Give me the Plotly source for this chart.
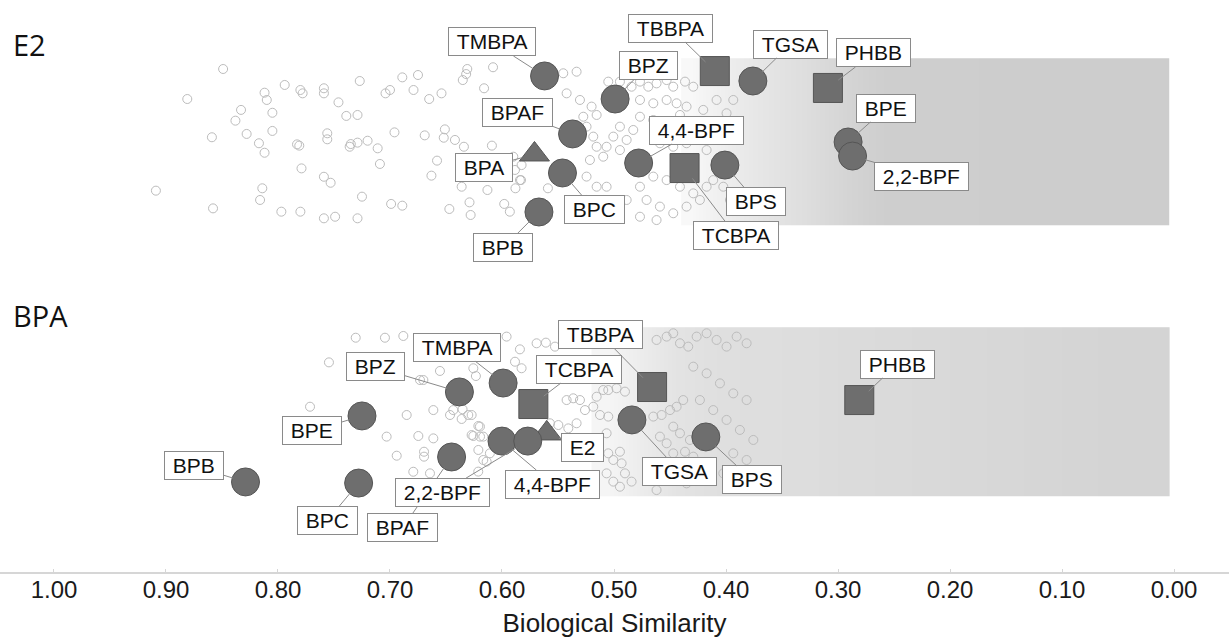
import plotly.graph_objects as go

# ---------------- highlighted compounds ----------------
# E2 panel: similarity to E2 (x) and vertical jitter (y, 0-1 band)
e2_names = ["TMBPA", "BPZ", "BPAF", "BPA", "BPC", "BPB", "4,4-BPF", "TCBPA",
            "BPS", "TBBPA", "TGSA", "PHBB", "BPE", "2,2-BPF"]
e2_sim = [0.562, 0.499, 0.537, 0.571, 0.546, 0.567, 0.478, 0.437,
          0.401, 0.410, 0.376, 0.309, 0.291, 0.287]
e2_jit = [0.918, 0.772, 0.551, 0.421, 0.304, 0.057, 0.367, 0.335,
          0.354, 0.949, 0.886, 0.842, 0.500, 0.411]

# BPA panel
bpa_names = ["BPB", "BPE", "BPC", "BPZ", "BPAF", "TMBPA", "4,4-BPF", "2,2-BPF",
             "TCBPA", "E2", "TBBPA", "TGSA", "BPS", "PHBB"]
bpa_sim = [0.829, 0.725, 0.728, 0.638, 0.645, 0.599, 0.600, 0.577,
           0.572, 0.560, 0.466, 0.484, 0.418, 0.281]
bpa_jit = [0.057, 0.472, 0.050, 0.623, 0.214, 0.679, 0.314, 0.314,
           0.547, 0.362, 0.654, 0.447, 0.340, 0.572]

# marker shape per compound class
triangle_set = {"BPA", "E2"}
square_set = {"TCBPA", "TBBPA", "PHBB"}

# ---------------- background library (sparse part, read individually) ----------------
e2_bg_sim = [
    0.849, 0.881, 0.794, 0.812, 0.810, 0.805, 0.833, 0.838, 0.780, 0.778, 0.759, 0.759,
    0.746, 0.727, 0.689, 0.675, 0.704, 0.700, 0.679, 0.665, 0.654, 0.631, 0.632, 0.635,
    0.608, 0.616, 0.739, 0.729, 0.859, 0.828, 0.817, 0.812, 0.805, 0.783, 0.781, 0.756,
    0.756, 0.736, 0.735, 0.729, 0.720, 0.711, 0.696, 0.669, 0.651, 0.652, 0.642, 0.634,
    0.609, 0.779, 0.759, 0.753, 0.709, 0.658, 0.663, 0.814, 0.816, 0.725, 0.909, 0.858,
    0.797, 0.780, 0.759, 0.749, 0.729, 0.699, 0.689, 0.647, 0.629, 0.628, 0.636, 0.613,
    0.598, 0.593, 0.588, 0.583, 0.559,
    0.5825, 0.5840, 0.5899, 0.5884, 0.5453, 0.5334, 0.5423, 0.5304, 0.5200, 0.5155,
    0.5274, 0.5245, 0.5185, 0.5155, 0.5096, 0.5215, 0.5245, 0.5155, 0.5066, 0.5096,
    0.5245, 0.5051, 0.4947, 0.4843, 0.4768, 0.4694, 0.4620, 0.4530, 0.4471, 0.4366,
    0.4292, 0.4768, 0.4649, 0.4530, 0.4441, 0.4352, 0.4768, 0.4649, 0.4530, 0.4411,
    0.4292, 0.4947, 0.4828, 0.5006, 0.4887, 0.5066, 0.4947, 0.4590, 0.4471, 0.4352,
    0.4649, 0.4530, 0.4411, 0.4292, 0.4768, 0.4709, 0.4590, 0.4471, 0.4352, 0.4233,
    0.4173, 0.4887, 0.5006, 0.4768, 0.4620, 0.4173, 0.4203, 0.4084, 0.3995, 0.3935,
    0.3935, 0.4054, 0.4114, 0.4024, 0.3965, 0.3876,
]
e2_bg_jit = [
    0.962, 0.772, 0.861, 0.812, 0.766, 0.685, 0.703, 0.635, 0.829, 0.808, 0.840, 0.808,
    0.751, 0.886, 0.909, 0.924, 0.808, 0.829, 0.829, 0.772, 0.808, 0.962, 0.930, 0.892,
    0.973, 0.840, 0.665, 0.671, 0.530, 0.551, 0.492, 0.432, 0.570, 0.485, 0.477, 0.555,
    0.517, 0.470, 0.487, 0.496, 0.508, 0.460, 0.561, 0.542, 0.580, 0.527, 0.513, 0.470,
    0.477, 0.333, 0.280, 0.242, 0.361, 0.382, 0.287, 0.207, 0.133, 0.154, 0.192, 0.080,
    0.059, 0.059, 0.017, 0.027, 0.017, 0.108, 0.097, 0.076, 0.118, 0.038, 0.217, 0.196,
    0.108, 0.059, 0.207, 0.259, 0.207,
    0.354, 0.259, 0.407, 0.323, 0.935, 0.945, 0.808, 0.766, 0.724, 0.671,
    0.660, 0.597, 0.534, 0.470, 0.407, 0.386, 0.281, 0.217, 0.217, 0.133,
    0.133, 0.882, 0.882, 0.850, 0.882, 0.850, 0.871, 0.892, 0.850, 0.882,
    0.850, 0.766, 0.745, 0.766, 0.745, 0.724, 0.660, 0.639, 0.618, 0.671,
    0.597, 0.597, 0.576, 0.534, 0.513, 0.470, 0.449, 0.492, 0.470, 0.492,
    0.281, 0.259, 0.217, 0.175, 0.217, 0.133, 0.091, 0.049, 0.091, 0.133,
    0.217, 0.133, 0.049, 0.027, 0.006, 0.449, 0.703, 0.766, 0.682, 0.766,
    0.555, 0.513, 0.259, 0.217, 0.133, 0.175,
]

bpa_bg_sim = [
    0.7306, 0.7045, 0.6881, 0.7545, 0.7714, 0.6851, 0.6613, 0.6464, 0.6360, 0.6301,
    0.7030, 0.6747, 0.6613, 0.6940, 0.6696, 0.6696, 0.6792, 0.6643, 0.6554, 0.6732,
    0.6702, 0.6271, 0.6196, 0.6211, 0.6167, 0.6211,
    0.5959, 0.5840, 0.5691, 0.5608, 0.5527, 0.5884, 0.5825, 0.6256, 0.6233, 0.6435,
    0.6352, 0.6271, 0.6197, 0.6256, 0.6167, 0.6108, 0.6137, 0.6212, 0.5572, 0.5497,
    0.5408, 0.5334, 0.5423, 0.5364, 0.5304, 0.5259, 0.5185, 0.5155, 0.5096, 0.5051,
    0.4977, 0.4902, 0.5125, 0.5051, 0.5215, 0.5155, 0.5066, 0.4947, 0.5051, 0.5006,
    0.4932, 0.4902, 0.4843, 0.5066, 0.5006, 0.4947, 0.4649, 0.4575, 0.4500, 0.4441,
    0.4382, 0.4471, 0.4411, 0.4322, 0.4366, 0.4292, 0.4471, 0.4530, 0.4590, 0.4620,
    0.4530, 0.4471, 0.4411, 0.4337, 0.4262, 0.4173, 0.4084, 0.3995, 0.3905, 0.3816,
    0.4292, 0.4173, 0.4054, 0.3935, 0.3816, 0.4233, 0.4114, 0.3995, 0.3876, 0.3756,
    0.3935, 0.3816, 0.4024, 0.3935, 0.4471, 0.4352, 0.4620,
]
bpa_bg_jit = [
    0.964, 0.964, 0.975, 0.809, 0.530, 0.478, 0.509, 0.478, 0.453, 0.478,
    0.342, 0.346, 0.331, 0.222, 0.247, 0.216, 0.121, 0.111, 0.755, 0.698,
    0.698, 0.352, 0.342, 0.409, 0.195, 0.258,
    0.971, 0.891, 0.929, 0.933, 0.908, 0.813, 0.772, 0.772, 0.723, 0.509,
    0.514, 0.478, 0.405, 0.346, 0.342, 0.237, 0.185, 0.122, 0.426, 0.415,
    0.394, 0.426, 0.572, 0.583, 0.572, 0.509, 0.530, 0.593, 0.635, 0.635,
    0.646, 0.625, 0.478, 0.468, 0.321, 0.279, 0.363, 0.247, 0.237, 0.195,
    0.174, 0.111, 0.059, 0.111, 0.059, 0.027, 0.468, 0.478, 0.509, 0.530,
    0.572, 0.405, 0.363, 0.321, 0.247, 0.216, 0.237, 0.300, 0.342, 0.950,
    0.971, 0.992, 0.929, 0.908, 0.971, 0.992, 0.950, 0.908, 0.971, 0.929,
    0.782, 0.740, 0.677, 0.614, 0.572, 0.572, 0.509, 0.447, 0.384, 0.321,
    0.237, 0.195, 0.111, 0.048, 0.090, 0.048, 0.006,
]

# dense part of the library: share of the band covered, per similarity bin
e2_band_edges = [0.44, 0.42, 0.40, 0.38, 0.36, 0.34, 0.32, 0.30, 0.28, 0.26, 0.004]
e2_band_cover = [0.15, 0.28, 0.40, 0.50, 0.58, 0.66, 0.76, 0.86, 0.94, 1.00]
bpa_band_edges = [0.52, 0.49, 0.46, 0.43, 0.40, 0.35, 0.30, 0.20, 0.10, 0.004]
bpa_band_cover = [0.20, 0.38, 0.55, 0.62, 0.66, 0.68, 0.74, 0.80, 0.86]
band_jit_edges = [-0.03, 0.5, 1.03]

tick_vals = [1.0, 0.9, 0.8, 0.7, 0.6, 0.5, 0.4, 0.3, 0.2, 0.1, 0.0]
tick_text = ["1.00", "0.90", "0.80", "0.70", "0.60", "0.50", "0.40", "0.30", "0.20", "0.10", "0.00"]

# label box offsets (pixels from marker to box centre)
e2_label_offsets = {
    "TMBPA": (-53, -34), "BPZ": (33, -34), "BPAF": (-55, -21), "BPA": (-50, 13),
    "BPC": (32, 37), "BPB": (-36, 36), "4,4-BPF": (58, -33), "TCBPA": (51, 67),
    "BPS": (31, 36), "TBBPA": (-44, -43), "TGSA": (38, -37), "PHBB": (46, -35),
    "BPE": (38, -34), "2,2-BPF": (69, 20),
}
bpa_label_offsets = {
    "BPB": (-52, -16), "BPE": (-50, 15), "BPC": (-31, 37), "BPZ": (-84, -25),
    "BPAF": (-49, 71), "TMBPA": (-46, -36), "4,4-BPF": (51, 43), "2,2-BPF": (-85, 51),
    "TCBPA": (46, -35), "E2": (36, 14), "TBBPA": (-52, -53), "TGSA": (48, 52),
    "BPS": (46, 43), "PHBB": (38, -36),
}

MARK_FILL = "#6e6e6e"
MARK_LINE = "#555555"
RING = "#bcbcbc"
ARIAL = "Liberation Sans, Arial, sans-serif"
LABEL_FONT = dict(family=ARIAL, size=21, color="#111111")

fig = go.Figure()


def add_panel(yref, edges, cover, bg_x, bg_y, names, sims, jits):
    fig.add_trace(go.Heatmap(
        x=edges, y=band_jit_edges, z=[cover, cover], zmin=0, zmax=1,
        zsmooth="best",
        colorscale=[[0, "#ffffff"], [1, "#cdcdcd"]], showscale=False,
        hoverinfo="skip", xaxis="x", yaxis=yref,
    ))
    fig.add_trace(go.Scatter(
        x=bg_x, y=bg_y, mode="markers", xaxis="x", yaxis=yref, hoverinfo="skip",
        marker=dict(symbol="circle-open", size=9, color=RING, line=dict(width=1, color=RING)),
    ))
    groups = [
        ("triangle-up", 26, [i for i, n in enumerate(names) if n in triangle_set]),
        ("square", 29, [i for i, n in enumerate(names) if n in square_set]),
        ("circle", 28, [i for i, n in enumerate(names) if n not in triangle_set and n not in square_set]),
    ]
    for symbol, size, idx in groups:
        fig.add_trace(go.Scatter(
            x=[sims[i] for i in idx], y=[jits[i] for i in idx],
            text=[names[i] for i in idx], mode="markers", xaxis="x", yaxis=yref,
            marker=dict(symbol=symbol, size=size, color=MARK_FILL,
                        line=dict(width=1, color=MARK_LINE)),
            hoverinfo="text",
        ))


add_panel("y", e2_band_edges, e2_band_cover, e2_bg_sim, e2_bg_jit, e2_names, e2_sim, e2_jit)
add_panel("y2", bpa_band_edges, bpa_band_cover, bpa_bg_sim, bpa_bg_jit, bpa_names, bpa_sim, bpa_jit)

annotations = []
for yref, names, sims, jits, offsets in [
    ("y", e2_names, e2_sim, e2_jit, e2_label_offsets),
    ("y2", bpa_names, bpa_sim, bpa_jit, bpa_label_offsets),
]:
    for n, s, j in zip(names, sims, jits):
        dx, dy = offsets[n]
        annotations.append(dict(
            x=s, y=j, xref="x", yref=yref, ax=dx, ay=dy,
            text="\u00a0" + n + "\u00a0", showarrow=True, arrowhead=0,
            arrowwidth=1, arrowcolor="#8a8a8a", standoff=13,
            font=LABEL_FONT, bgcolor="#ffffff", bordercolor="#8a8a8a",
            borderwidth=1, borderpad=2,
        ))

# panel titles
for label, ypos in [("E2", 0.923), ("BPA", 0.4476)]:
    annotations.append(dict(
        text=label, x=0.009, y=ypos, xref="paper", yref="paper",
        xanchor="left", yanchor="middle", showarrow=False,
        font=dict(family="Open Sans, sans-serif", size=29, color="#111111"),
    ))

fig.update_layout(
    width=1229, height=641,
    margin=dict(l=0, r=0, t=0, b=69),
    paper_bgcolor="#ffffff", plot_bgcolor="#ffffff",
    showlegend=False,
    annotations=annotations,
    xaxis=dict(
        range=[1.0482, -0.0491], anchor="y2",
        tickvals=tick_vals, ticktext=tick_text,
        showline=True, linecolor="#d6d6d6", linewidth=2,
        ticks="inside", ticklen=3, tickcolor="#d6d6d6",
        ticklabelstandoff=-5,
        showgrid=False, zeroline=False,
        tickfont=dict(family=ARIAL, size=24, color="#1a1a1a"),
        title=dict(text="Biological Similarity", standoff=12,
                   font=dict(family=ARIAL, size=26, color="#1a1a1a")),
    ),
    yaxis=dict(domain=[0.5, 1.0], range=[-0.4114, 1.3987], visible=False, anchor="x"),
    yaxis2=dict(domain=[0.0, 0.5], range=[-0.5094, 1.2893], visible=False, anchor="x"),
)

fig.write_html("out.html")
